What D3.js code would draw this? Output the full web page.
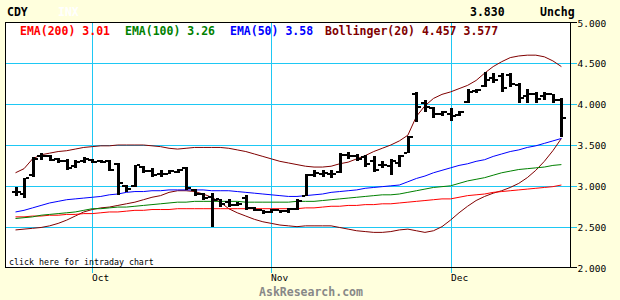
<!DOCTYPE html>
<html>
<head>
<meta charset="utf-8">
<script src="https://cdn.jsdelivr.net/npm/d3@7"></script>
<style>
  body { margin: 0; background: #ffffdd; }
  text { font-family: "DejaVu Sans Mono", monospace; }
</style>
</head>
<body>
<div id="root"></div>
<script>
// daily OHLC bars, one per trading day
const opens  = [2.93,2.90,3.13,3.36,3.37,3.33,3.30,3.24,3.30,3.32, 3.30,3.31,3.27,3.00,3.00,3.23,3.18,3.14,3.15,3.17, 3.22,2.95,2.90,2.86,2.84,2.80,2.77,2.85,2.73,2.70, 2.68,2.70,2.69,2.72,2.88,3.13,3.15,3.15,3.17,3.38, 3.36,3.35,3.30,3.26,3.24,3.28,3.40,4.12,4.02,3.95, 3.88,3.88,3.87,4.03,4.16,4.22,4.32,4.35,4.36,4.24, 4.10,4.13,4.10,4.12,4.05];
const highs  = [2.98,3.10,3.35,3.40,3.38,3.34,3.33,3.32,3.35,3.33, 3.32,3.32,3.28,3.01,3.26,3.24,3.22,3.20,3.20,3.21, 3.23,2.96,2.91,2.91,2.84,2.84,2.80,2.89,2.74,2.71, 2.72,2.71,2.73,2.84,3.14,3.20,3.19,3.19,3.40,3.41, 3.39,3.38,3.36,3.30,3.33,3.38,3.61,4.15,4.05,3.97, 3.92,3.95,3.92,4.18,4.19,4.40,4.38,4.38,4.38,4.26, 4.18,4.15,4.15,4.13,4.07];
const lows   = [2.88,2.85,3.11,3.32,3.30,3.28,3.20,3.22,3.28,3.28, 3.28,3.18,2.89,2.93,2.99,3.16,3.11,3.11,3.14,3.16, 2.95,2.87,2.83,2.49,2.74,2.74,2.75,2.70,2.69,2.66, 2.67,2.67,2.67,2.71,2.88,3.11,3.11,3.10,3.16,3.33, 3.30,3.23,3.17,3.22,3.13,3.23,3.40,3.78,3.90,3.83, 3.85,3.80,3.85,4.02,4.14,4.21,4.26,4.15,4.21,4.02, 4.02,4.02,4.05,4.02,3.60];
const closes = [2.92,3.09,3.33,3.37,3.32,3.30,3.22,3.29,3.33,3.29, 3.29,3.20,3.04,2.96,3.25,3.18,3.13,3.15,3.18,3.20, 2.97,2.90,2.85,2.83,2.78,2.76,2.78,2.73,2.71,2.68, 2.70,2.69,2.72,2.82,3.13,3.16,3.16,3.15,3.38,3.36, 3.33,3.27,3.20,3.25,3.30,3.36,3.60,3.97,3.96,3.88, 3.90,3.86,3.90,4.15,4.17,4.30,4.30,4.20,4.25,4.08, 4.12,4.06,4.12,4.05,3.83];

// indicators
const ema200 = [2.62,2.62,2.63,2.63,2.64,2.64,2.65,2.65,2.66,2.66, 2.67,2.68,2.68,2.69,2.70,2.70,2.71,2.71,2.71,2.72, 2.72,2.72,2.72,2.72,2.72,2.72,2.72,2.72,2.72,2.72, 2.72,2.72,2.72,2.72,2.73,2.73,2.74,2.75,2.75,2.76, 2.76,2.77,2.77,2.78,2.78,2.79,2.80,2.81,2.82,2.83, 2.84,2.84,2.86,2.88,2.89,2.90,2.92,2.93,2.94,2.95, 2.96,2.97,2.98,2.99,3.01];
const ema100 = [2.60,2.61,2.62,2.64,2.65,2.66,2.67,2.68,2.70,2.72, 2.72,2.73,2.74,2.74,2.75,2.76,2.77,2.78,2.79,2.80, 2.80,2.81,2.81,2.81,2.81,2.81,2.81,2.80,2.80,2.80, 2.80,2.80,2.80,2.81,2.81,2.81,2.82,2.83,2.84,2.85, 2.86,2.87,2.88,2.89,2.89,2.90,2.92,2.94,2.96,2.98, 2.99,3.00,3.03,3.06,3.08,3.10,3.13,3.16,3.18,3.20, 3.21,3.22,3.23,3.25,3.26];
const ema50  = [2.68,2.70,2.73,2.76,2.79,2.81,2.83,2.84,2.85,2.86, 2.87,2.89,2.90,2.92,2.93,2.93,2.94,2.94,2.95,2.95, 2.95,2.95,2.95,2.94,2.94,2.94,2.93,2.92,2.91,2.90, 2.89,2.88,2.87,2.87,2.88,2.89,2.90,2.92,2.93,2.94, 2.95,2.97,2.98,2.99,3.00,3.01,3.05,3.09,3.12,3.16, 3.19,3.22,3.25,3.27,3.30,3.32,3.36,3.39,3.42,3.44, 3.47,3.49,3.52,3.55,3.58];
const bbUpper = [3.16,3.21,3.33,3.38,3.40,3.42,3.43,3.45,3.47,3.48, 3.49,3.49,3.50,3.50,3.50,3.50,3.49,3.48,3.46,3.45, 3.46,3.47,3.47,3.47,3.47,3.46,3.44,3.42,3.39,3.36, 3.33,3.30,3.28,3.26,3.24,3.23,3.23,3.24,3.27,3.29, 3.33,3.37,3.42,3.46,3.50,3.55,3.62,3.85,3.98,4.07, 4.12,4.15,4.19,4.23,4.29,4.38,4.46,4.52,4.57,4.59, 4.60,4.60,4.58,4.53,4.46];
const bbLower = [2.46,2.47,2.48,2.49,2.51,2.54,2.58,2.63,2.68,2.71, 2.73,2.74,2.76,2.78,2.80,2.83,2.86,2.88,2.92,2.94, 2.94,2.93,2.90,2.86,2.80,2.72,2.67,2.63,2.59,2.56, 2.54,2.52,2.51,2.50,2.51,2.51,2.51,2.51,2.49,2.47, 2.45,2.44,2.43,2.43,2.44,2.46,2.47,2.45,2.43,2.45, 2.50,2.58,2.67,2.75,2.82,2.87,2.91,2.94,2.98,3.03, 3.10,3.19,3.30,3.43,3.58];

const monthLabels = ["Oct", "Nov", "Dec"];
const monthIndex = [9, 30, 51];
const priceTicks = [2.0, 2.5, 3.0, 3.5, 4.0, 4.5, 5.0];

const legendLabels = ["EMA(200) 3.01", "EMA(100) 3.26", "EMA(50) 3.58", "Bollinger(20) 4.457 3.577"];

const outerWidth = 620;
const outerHeight = 300;
const plot = { left: 5.5, right: 570.5, top: 22.5, bottom: 267.5 };

let scaleX = d3.scaleLinear().domain([0, opens.length - 1]).range([15.5, 561.4]);
let scaleY = d3.scaleLinear().domain([2, 5]).range([plot.bottom, plot.top]);

let svg = d3.select("#root")
            .append("svg")
            .attr("width", outerWidth)
            .attr("height", outerHeight)
            .style("display", "block");

svg.append("rect")
    .attr("width", outerWidth)
    .attr("height", outerHeight)
    .attr("fill", "#ffffdd");

svg.append("rect")
    .attr("x", plot.left)
    .attr("y", plot.top)
    .attr("width", plot.right - plot.left)
    .attr("height", plot.bottom - plot.top)
    .attr("fill", "#ffffff");

// grid
const gridColor = "#1ec8f4";
svg.append("g")
    .selectAll("line")
    .data(priceTicks.filter(t => t > 2 && t < 5))
    .enter().append("line")
      .attr("x1", plot.left)
      .attr("x2", plot.right + 6)
      .attr("y1", d => Math.round(scaleY(d)) + 0.5)
      .attr("y2", d => Math.round(scaleY(d)) + 0.5)
      .attr("stroke", gridColor)
      .attr("shape-rendering", "crispEdges");

svg.append("g")
    .selectAll("line")
    .data(monthIndex)
    .enter().append("line")
      .attr("x1", d => Math.round(scaleX(d)) + 0.5)
      .attr("x2", d => Math.round(scaleX(d)) + 0.5)
      .attr("y1", plot.top)
      .attr("y2", plot.bottom + 5)
      .attr("stroke", gridColor)
      .attr("shape-rendering", "crispEdges");

// outer ticks at 5.000 and 2.000
svg.append("g")
    .selectAll("line")
    .data([2, 5])
    .enter().append("line")
      .attr("x1", plot.right)
      .attr("x2", plot.right + 6)
      .attr("y1", d => scaleY(d))
      .attr("y2", d => scaleY(d))
      .attr("stroke", "#000")
      .attr("shape-rendering", "crispEdges");

// indicator lines
let line = d3.line().x((d, i) => scaleX(i)).y(d => scaleY(d));
const series = [
    { values: bbUpper, color: "#800000" },
    { values: bbLower, color: "#800000" },
    { values: ema200, color: "#ff0000" },
    { values: ema100, color: "#008000" },
    { values: ema50, color: "#0000ff" }
];
svg.append("g")
    .selectAll("path")
    .data(series)
    .enter().append("path")
      .attr("d", d => line(d.values))
      .attr("fill", "none")
      .attr("stroke", d => d.color)
      .attr("stroke-width", 1);

// OHLC bars
let bars = opens.map((o, i) => ({ i: i, o: o, h: highs[i], l: lows[i], c: closes[i] }));
let bar = svg.append("g")
    .attr("shape-rendering", "crispEdges")
    .selectAll("g")
    .data(bars)
    .enter().append("g");

bar.append("rect")
    .attr("x", d => Math.round(scaleX(d.i)) - 1)
    .attr("y", d => scaleY(d.h))
    .attr("width", 3)
    .attr("height", d => Math.max(2, scaleY(d.l) - scaleY(d.h)))
    .attr("fill", "#000");
bar.append("rect")
    .attr("x", d => Math.round(scaleX(d.i)) - 4)
    .attr("y", d => scaleY(d.o) - 1)
    .attr("width", 3)
    .attr("height", 2)
    .attr("fill", "#000");
bar.append("rect")
    .attr("x", d => Math.round(scaleX(d.i)) + 2)
    .attr("y", d => scaleY(d.c) - 1)
    .attr("width", 3)
    .attr("height", 2)
    .attr("fill", "#000");

// frame
svg.append("rect")
    .attr("x", plot.left)
    .attr("y", plot.top)
    .attr("width", plot.right - plot.left)
    .attr("height", plot.bottom - plot.top)
    .attr("fill", "none")
    .attr("stroke", "#000")
    .attr("shape-rendering", "crispEdges");

// price labels
svg.append("g")
    .selectAll("text")
    .data(priceTicks)
    .enter().append("text")
      .attr("x", plot.right + 7)
      .attr("y", d => scaleY(d) + 4)
      .attr("font-size", "9.5px")
      .attr("fill", "#000")
      .text(d => d3.format(".3f")(d));

// month labels
svg.append("g")
    .selectAll("text")
    .data(monthIndex)
    .enter().append("text")
      .attr("x", d => Math.round(scaleX(d)))
      .attr("y", 281)
      .attr("font-size", "9.5px")
      .attr("fill", "#000")
      .text((d, i) => monthLabels[i]);

// header
svg.append("text").attr("x", 7).attr("y", 16)
    .attr("font-size", "11.5px").attr("font-weight", "bold").text("CDY");
svg.append("text").attr("x", 58).attr("y", 16)
    .attr("font-size", "11.5px").attr("font-weight", "bold").attr("fill", "#ffffff").text("INX");
svg.append("text").attr("x", 470).attr("y", 16)
    .attr("font-size", "11.5px").attr("font-weight", "bold").text("3.830");
svg.append("text").attr("x", 540).attr("y", 16)
    .attr("font-size", "11.5px").attr("font-weight", "bold").text("Unchg");

// legend
const legendColors = ["#ff0000", "#008000", "#0000ff", "#800000"];
const legendX = [20, 125, 230, 325];
svg.append("g")
    .selectAll("text")
    .data(legendLabels)
    .enter().append("text")
      .attr("x", (d, i) => legendX[i])
      .attr("y", 35)
      .attr("font-size", "11.5px")
      .attr("font-weight", "bold")
      .attr("fill", (d, i) => legendColors[i])
      .text(d => d);

svg.append("text").attr("x", 9).attr("y", 265)
    .attr("font-size", "8.3px").text("click here for intraday chart");

svg.append("text").attr("x", 311).attr("y", 296)
    .attr("text-anchor", "middle")
    .attr("font-size", "11.5px").attr("font-weight", "bold").attr("fill", "#888888")
    .text("AskResearch.com");
</script>
</body>
</html>
